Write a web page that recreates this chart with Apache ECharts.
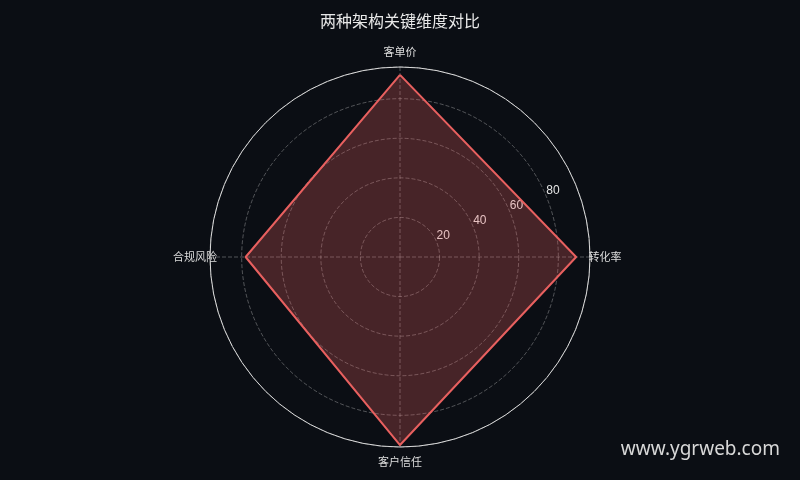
<!DOCTYPE html>
<html><head><meta charset="utf-8">
<script src="https://cdn.jsdelivr.net/npm/echarts@6/dist/echarts.min.js"></script>
<style>html,body{margin:0;padding:0;background:#0b0e14;}#c{width:800px;height:480px;}</style>
</head><body><div id="c"></div>
<script>
// clockwise order starting at top
const indicators = ['客单价', '转化率', '客户信任', '合规风险'];
const seriesName = '架构';
const values = [92, 89, 95, 78];
const axisMax = 96;
const tickInterval = 20;

const CENTER = ['50%', 257];
const R = 190;
const grid = 'rgba(200,200,200,0.38)';

// radar uses counter-clockwise order: top, left, bottom, right
const radarOrder = [0, 3, 2, 1];

const chart = echarts.init(document.getElementById('c'));
chart.setOption({
  backgroundColor: '#0b0e14',
  animation: false,
  title: {
    text: '两种架构关键维度对比', left: 'center', top: 8,
    textStyle: { color: '#e8e8e8', fontSize: 16, fontWeight: 'normal', fontFamily: 'Noto Sans CJK SC' }
  },
  graphic: [{
    type: 'text', right: 20, bottom: 21,
    style: { text: 'www.ygrweb.com', fill: '#d8d8d8', fontSize: 19, fontFamily: 'Noto Sans' }
  }],
  polar: [
    { center: CENTER, radius: R },
    { center: CENTER, radius: R }
  ],
  angleAxis: [{
    polarIndex: 0,
    type: 'value',
    min: 0, max: indicators.length, interval: 1,
    startAngle: 90,
    clockwise: true,
    axisLine: { show: true, lineStyle: { color: '#d9d9d9', width: 1 } },
    axisTick: { show: false },
    axisLabel: {
      show: true, margin: -7, showMaxLabel: false,
      formatter: v => (indicators[v] ? '{n|' + indicators[v] + '}' : ''),
      rich: {
        n: { width: 44, height: 44, lineHeight: 44, align: 'center', verticalAlign: 'middle',
             color: '#dddddd', fontSize: 11, fontFamily: 'Noto Sans CJK SC' }
      }
    },
    splitLine: { show: true, lineStyle: { color: grid, type: 'dashed' } }
  }, {
    polarIndex: 1,
    type: 'value',
    startAngle: 22.5,
    show: false
  }],
  radiusAxis: [{
    polarIndex: 0,
    type: 'value',
    min: 0, max: axisMax, interval: tickInterval,
    axisLine: { show: false },
    axisTick: { show: false },
    axisLabel: { show: false },
    splitLine: { show: true, lineStyle: { color: grid, type: 'dashed' } }
  }, {
    polarIndex: 1,
    type: 'value',
    min: 0, max: axisMax, interval: tickInterval,
    axisLine: { show: false },
    axisTick: { show: false },
    splitLine: { show: false },
    axisLabel: {
      show: true, color: '#e6e6e6', fontSize: 12, margin: 0,
      align: 'left', verticalAlign: 'bottom',
      showMinLabel: false, showMaxLabel: false,
      formatter: v => (v % tickInterval === 0 && v > 0 ? String(v) : '')
    }
  }],
  radar: {
    center: CENTER,
    radius: R,
    shape: 'circle',
    indicator: radarOrder.map(i => ({ name: indicators[i], min: 0, max: axisMax })),
    axisName: { show: false },
    axisLabel: { show: false },
    splitArea: { show: false },
    axisLine: { show: false },
    splitLine: { show: false }
  },
  series: [{
    type: 'radar',
    symbol: 'none',
    data: [{
      name: seriesName,
      value: radarOrder.map(i => values[i]),
      lineStyle: { color: '#e8605f', width: 2 },
      areaStyle: { color: '#e8605f', opacity: 0.27 }
    }]
  }]
});
</script></body></html>
